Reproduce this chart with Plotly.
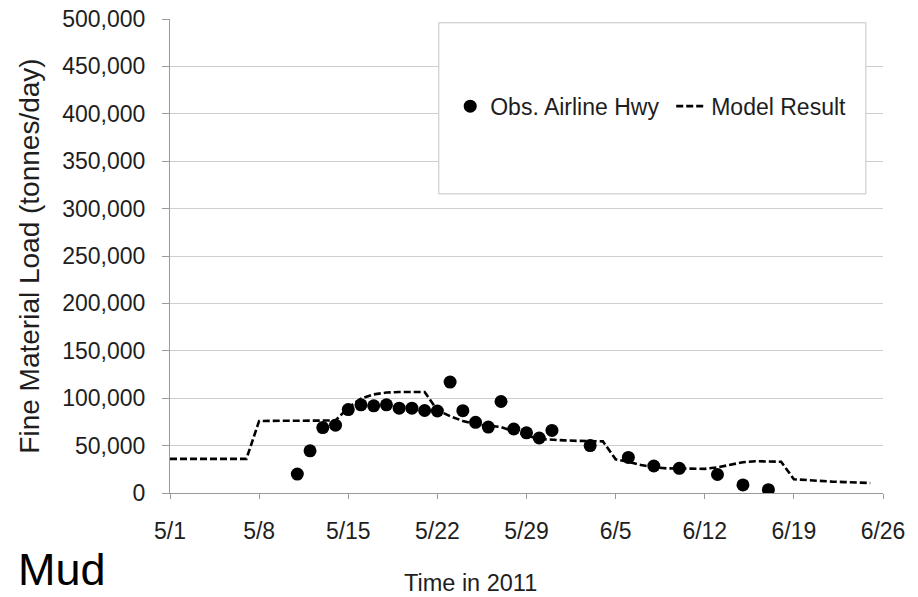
import pandas as pd
import plotly.graph_objects as go

# Observed fine-material load at Airline Hwy (tonnes/day)
obs_dates = [
    "2011-05-11", "2011-05-12", "2011-05-13", "2011-05-14", "2011-05-15",
    "2011-05-16", "2011-05-17", "2011-05-18", "2011-05-19", "2011-05-20",
    "2011-05-21", "2011-05-22", "2011-05-23", "2011-05-24", "2011-05-25",
    "2011-05-26", "2011-05-27", "2011-05-28", "2011-05-29", "2011-05-30",
    "2011-05-31", "2011-06-03", "2011-06-06", "2011-06-08", "2011-06-10",
    "2011-06-13", "2011-06-15", "2011-06-17",
]
obs_load = [
    20000, 44500, 69000, 71500, 88000,
    93000, 92000, 93000, 89500, 89500,
    87000, 86500, 117000, 86800, 74500,
    69500, 96500, 67500, 63500, 58000,
    66000, 50000, 37500, 28500, 26000,
    19500, 8500, 3500,
]

# Daily model result, 5/1 through 6/25
model_start = "2011-05-01"
model_load = [
    36000, 36000, 36000, 36000, 36000, 36000, 36000,
    76000, 76000, 76000, 76000, 76000, 76000, 76500,
    90000, 99500, 104000, 106000, 106500, 106500, 106500,
    87500, 81000, 76000, 72500, 71000, 69500, 65000,
    60500, 57000, 56000, 55500, 55000, 55000, 54500,
    35500, 33000, 29500, 27000, 26000, 26000, 25500,
    25500, 27000, 30000, 32500, 33500, 33500, 33000,
    14500, 13500, 12500, 12000, 11500, 11000, 10500,
]
model_dates = pd.date_range(model_start, periods=len(model_load), freq="D")

x_ticks = ["2011-05-01", "2011-05-08", "2011-05-15", "2011-05-22", "2011-05-29",
           "2011-06-05", "2011-06-12", "2011-06-19", "2011-06-26"]
x_tick_text = ["5/1", "5/8", "5/15", "5/22", "5/29", "6/5", "6/12", "6/19", "6/26"]

FONT = "Liberation Sans, Arial, sans-serif"
TXT = "#1e1e1e"
AXIS = "#9a9a9a"

fig = go.Figure()
fig.add_trace(go.Scatter(
    x=obs_dates, y=obs_load, mode="markers", name="Obs. Airline Hwy",
    marker=dict(color="black", size=13),
))
fig.add_trace(go.Scatter(
    x=model_dates, y=model_load, mode="lines", name="Model Result",
    line=dict(color="black", width=2.6, dash="7px,3px"),
))

# White legend panel
fig.add_shape(type="rect", xref="paper", yref="paper",
              x0=0.377, x1=0.976, y0=0.631, y1=0.992,
              fillcolor="white", line=dict(color="#c4c4c4", width=1),
              layer="above")

fig.add_annotation(text="Time in 2011", xref="paper", yref="paper",
                   x=0.4208, y=-0.19, xanchor="center", yanchor="middle",
                   showarrow=False, font=dict(family=FONT, size=23.5, color=TXT))
fig.add_annotation(text="Mud", xref="paper", yref="paper",
                   x=-0.215, y=-0.2175, xanchor="left", yanchor="bottom",
                   borderpad=0, showarrow=False,
                   font=dict(family=FONT, size=45, color="black"))

fig.update_layout(
    width=918, height=597,
    margin=dict(l=170, r=35, t=19, b=104, autoexpand=False),
    paper_bgcolor="white", plot_bgcolor="white",
    font=dict(family=FONT, size=23, color=TXT),
    showlegend=True,
    legend=dict(orientation="h", x=0.393, y=0.816, xanchor="left", yanchor="middle",
                bgcolor="rgba(0,0,0,0)", font=dict(size=23, color=TXT),
                entrywidth=176, traceorder="normal"),
    xaxis=dict(
        type="date", range=["2011-05-01", "2011-06-26"], automargin=False,
        tickvals=x_ticks, ticktext=x_tick_text,
        showgrid=False, showline=True, linecolor=AXIS, linewidth=1,
        ticks="outside", ticklen=5, tickcolor=AXIS, ticklabelstandoff=12,
        tickfont=dict(size=23, color=TXT), zeroline=False,
    ),
    yaxis=dict(
        range=[0, 500000], dtick=50000, tickformat=",", automargin=False,
        showgrid=True, gridcolor="#cfcfcf", gridwidth=1,
        showline=True, linecolor=AXIS, linewidth=1, zeroline=False,
        ticks="outside", ticklen=7, tickcolor=AXIS, ticklabelstandoff=12,
        tickfont=dict(size=23, color=TXT),
        title=dict(text="Fine Material Load (tonnes/day)", standoff=14,
                   font=dict(size=28, color=TXT)),
    ),
)

fig.write_html("out.html")
